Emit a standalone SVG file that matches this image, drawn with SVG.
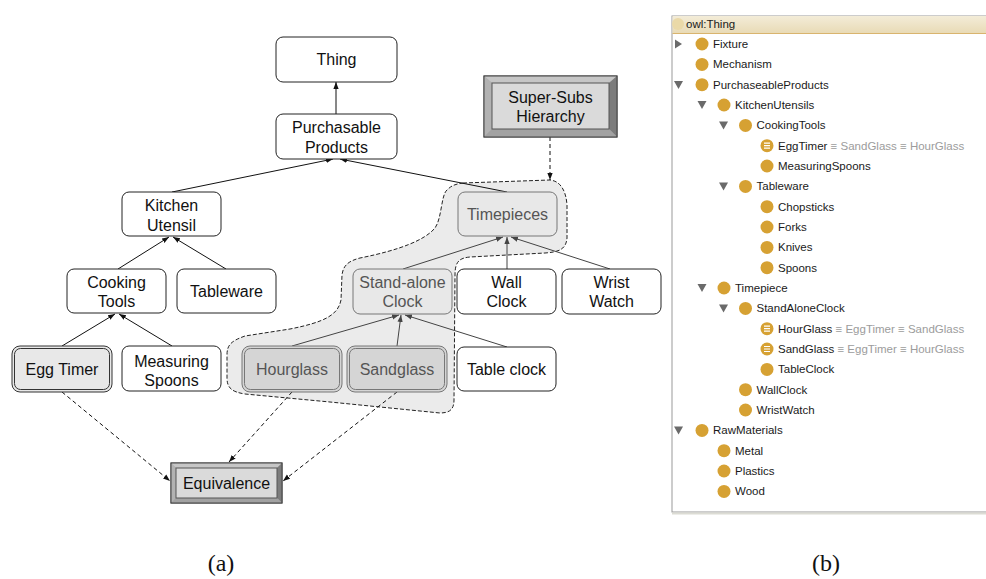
<svg xmlns="http://www.w3.org/2000/svg" width="986" height="579" viewBox="0 0 986 579">
  <defs>
    <marker id="arr" viewBox="0 0 8 8" refX="8" refY="4" markerWidth="7" markerHeight="7" orient="auto" markerUnits="userSpaceOnUse">
      <path d="M0,1 L8,4 L0,7 z" fill="#111"/>
    </marker>
    <marker id="arrGray" viewBox="0 0 8 8" refX="8" refY="4" markerWidth="7" markerHeight="7" orient="auto" markerUnits="userSpaceOnUse">
      <path d="M0,1 L8,4 L0,7 z" fill="#444"/>
    </marker>
    <linearGradient id="hdr" x1="0" y1="0" x2="0" y2="1">
      <stop offset="0" stop-color="#f3ecd8"/>
      <stop offset="1" stop-color="#e9dbb6"/>
    </linearGradient>
  </defs>
  <style>
    .lbl { font-family: "Liberation Sans", Arial, sans-serif; font-size: 16px; fill: #111; text-anchor: middle; }
    .lbl.dim { fill: #555; }
    .box { fill: #fff; stroke: #222; stroke-width: 1; }
    .boxIn { fill: #e8e8e8; stroke: #777; stroke-width: 1; }
    .dbl { fill: none; stroke-width: 1; }
    .edge { stroke: #111; stroke-width: 1; fill: none; marker-end: url(#arr); }
    .edge.gray { stroke: #444; marker-end: url(#arrGray); }
    .edge.dash { stroke-dasharray: 4 3; }
    .tree { font-family: "Liberation Sans", Arial, sans-serif; font-size: 11.5px; fill: #1a1a1a; }
    .eq { fill: #9c9c9c; }
    .cls { fill: #d6a133; }
    .tri { fill: #6a6a6a; }
    .cap { font-family: "Liberation Serif", "Times New Roman", serif; font-size: 24px; fill: #111; text-anchor: middle; }
  </style>

  <!-- shaded region grouping the timepiece classes -->
  <path id="superSubsRegion" d="M463,183 L550,180 C560,181 566,190 567,205 L567,238 C566,250 558,252 545,253 L470,257 C459,258 455,262 455,275 L454,400 C454,410 449,413 440,413 L330,402 L245,394 C232,392 227,388 227,378 L227,355 C227,345 231,341 245,336 L290,329 C325,322 338,315 341,300 L342,275 C343,266 348,261 360,258 C400,250 425,240 435,228 C442,218 441,195 447,190 C452,185 456,184 463,183 Z" fill="#ebebeb" stroke="#222" stroke-width="1" stroke-dasharray="4 2"/>

  <!-- connectors -->
  <g id="connectors">
    <line class="edge" x1="336" y1="114" x2="336" y2="82"/>
    <line class="edge" x1="172" y1="192" x2="333" y2="159"/>
    <line class="edge" x1="507" y1="192" x2="340" y2="159"/>
    <line class="edge" x1="118" y1="269" x2="169" y2="237"/>
    <line class="edge" x1="226" y1="269" x2="173" y2="237"/>
    <line class="edge" x1="62" y1="346" x2="115" y2="314"/>
    <line class="edge" x1="172" y1="346" x2="119" y2="314"/>
    <line class="edge gray" x1="403" y1="269" x2="503" y2="237"/>
    <line class="edge gray" x1="507" y1="269" x2="507" y2="237"/>
    <line class="edge gray" x1="610" y1="269" x2="511" y2="237"/>
    <line class="edge gray" x1="292" y1="346" x2="399" y2="315"/>
    <line class="edge gray" x1="397" y1="346" x2="401" y2="315"/>
    <line class="edge gray" x1="507" y1="347" x2="405" y2="315"/>
    <line class="edge dash" x1="550" y1="137" x2="550" y2="180"/>
    <line class="edge dash" x1="62" y1="392" x2="170" y2="481"/>
    <line class="edge dash" x1="292" y1="392" x2="229" y2="462"/>
    <line class="edge dash" x1="397" y1="392" x2="283" y2="481"/>
  </g>

  <g id="thing">
    <rect class="box" x="276" y="37" width="121" height="45" rx="7"/>
    <text class="lbl" x="336.5" y="65">Thing</text>
  </g>
  <g id="purchasableProducts">
    <rect class="box" x="276" y="114" width="121" height="45" rx="7"/>
    <text class="lbl" x="336.5" y="133">Purchasable</text>
    <text class="lbl" x="336.5" y="153">Products</text>
  </g>
  <g id="kitchenUtensil">
    <rect class="box" x="122" y="192" width="99" height="44" rx="7"/>
    <text class="lbl" x="171.5" y="211">Kitchen</text>
    <text class="lbl" x="171.5" y="231">Utensil</text>
  </g>
  <g id="cookingTools">
    <rect class="box" x="67" y="269" width="99" height="44" rx="7"/>
    <text class="lbl" x="116.5" y="288">Cooking</text>
    <text class="lbl" x="116.5" y="307">Tools</text>
  </g>
  <g id="tableware">
    <rect class="box" x="177" y="269" width="99" height="44" rx="7"/>
    <text class="lbl" x="226.5" y="297">Tableware</text>
  </g>
  <g id="eggTimer">
    <rect x="12" y="346" width="100" height="46" rx="8" fill="#e8e8e8" stroke="#333"/>
    <rect class="dbl" x="14.5" y="348.5" width="95" height="41" rx="6" stroke="#333"/>
    <text class="lbl" x="62" y="375">Egg Timer</text>
  </g>
  <g id="measuringSpoons">
    <rect class="box" x="122" y="346" width="99" height="45" rx="7"/>
    <text class="lbl" x="171.5" y="367">Measuring</text>
    <text class="lbl" x="171.5" y="386">Spoons</text>
  </g>
  <g id="superSubsHierarchy">
    <rect x="484" y="76" width="133" height="61" fill="#aaa" stroke="#444"/>
    <polygon points="484,76 617,76 609,83 492,83" fill="#c6c6c6"/>
    <polygon points="484,76 492,83 492,129 484,137" fill="#b2b2b2"/>
    <polygon points="617,76 617,137 609,129 609,83" fill="#7c7c7c"/>
    <polygon points="484,137 492,129 609,129 617,137" fill="#a2a2a2"/>
    <rect x="492" y="83" width="117" height="46" fill="#dadada" stroke="#555"/>
    <rect x="484" y="76" width="133" height="61" fill="none" stroke="#444"/>
    <text class="lbl" x="550.5" y="103">Super-Subs</text>
    <text class="lbl" x="550.5" y="122">Hierarchy</text>
  </g>
  <g id="timepieces">
    <rect class="boxIn" x="458" y="192" width="99" height="44" rx="7"/>
    <text class="lbl dim" x="507.5" y="220">Timepieces</text>
  </g>
  <g id="standAloneClock">
    <rect class="boxIn" x="353" y="269" width="99" height="45" rx="7"/>
    <text class="lbl dim" x="402.5" y="288">Stand-alone</text>
    <text class="lbl dim" x="402.5" y="307">Clock</text>
  </g>
  <g id="wallClock">
    <rect class="box" x="457" y="269" width="99" height="45" rx="7"/>
    <text class="lbl" x="506.5" y="288">Wall</text>
    <text class="lbl" x="506.5" y="307">Clock</text>
  </g>
  <g id="wristWatch">
    <rect class="box" x="562" y="269" width="99" height="45" rx="7"/>
    <text class="lbl" x="611.5" y="288">Wrist</text>
    <text class="lbl" x="611.5" y="307">Watch</text>
  </g>
  <g id="hourglass">
    <rect x="242" y="346" width="100" height="46" rx="8" fill="#d5d5d5" stroke="#777"/>
    <rect class="dbl" x="244.5" y="348.5" width="95" height="41" rx="6" stroke="#777"/>
    <text class="lbl dim" x="292" y="375">Hourglass</text>
  </g>
  <g id="sandglass">
    <rect x="347" y="346" width="100" height="46" rx="8" fill="#d5d5d5" stroke="#777"/>
    <rect class="dbl" x="349.5" y="348.5" width="95" height="41" rx="6" stroke="#777"/>
    <text class="lbl dim" x="397" y="375">Sandglass</text>
  </g>
  <g id="tableClock">
    <rect class="box" x="457" y="347" width="99" height="44" rx="7"/>
    <text class="lbl" x="506.5" y="375">Table clock</text>
  </g>
  <g id="equivalence">
    <rect x="171" y="463" width="111" height="40" fill="#aaa" stroke="#444"/>
    <polygon points="171,463 282,463 277,468 176,468" fill="#c6c6c6"/>
    <polygon points="171,463 176,468 176,498 171,503" fill="#b2b2b2"/>
    <polygon points="282,463 282,503 277,498 277,468" fill="#7c7c7c"/>
    <polygon points="171,503 176,498 277,498 282,503" fill="#a2a2a2"/>
    <rect x="176" y="468" width="101" height="30" fill="#dadada" stroke="#555"/>
    <rect x="171" y="463" width="111" height="40" fill="none" stroke="#444"/>
    <text class="lbl" x="226.5" y="489">Equivalence</text>
  </g>

  <!-- class hierarchy browser panel -->
  <g id="classTree">
    <rect x="672" y="16" width="320" height="496" fill="#fff" stroke="#999"/>
    <line x1="672" y1="513.5" x2="986" y2="513.5" stroke="#dcdcd4" stroke-width="2"/>
    <rect x="672.5" y="16" width="314" height="17" fill="url(#hdr)"/>
    <line x1="672.5" y1="33.5" x2="986" y2="33.5" stroke="#d9b46e"/>
    <circle cx="678" cy="24" r="6" fill="#ead9a8"/>
    <text class="tree" x="686" y="28">owl:Thing</text>

    <!-- expand/collapse handles -->
    <polygon class="tri" points="675,39.5 675,48.5 682,44"/>
    <polygon class="tri" points="674,81 683,81 678.5,89"/>
    <polygon class="tri" points="697.5,101 706.5,101 702,109"/>
    <polygon class="tri" points="719,121.5 728,121.5 723.5,129.5"/>
    <polygon class="tri" points="719,182.5 728,182.5 723.5,190.5"/>
    <polygon class="tri" points="697.5,284 706.5,284 702,292"/>
    <polygon class="tri" points="719,304.5 728,304.5 723.5,312.5"/>
    <polygon class="tri" points="674,426.5 683,426.5 678.5,434.5"/>

    <!-- class icons -->
    <circle class="cls" cx="702" cy="44" r="6.5"/>
    <circle class="cls" cx="702" cy="64.4" r="6.5"/>
    <circle class="cls" cx="702" cy="84.7" r="6.5"/>
    <circle class="cls" cx="724" cy="105" r="6.5"/>
    <circle class="cls" cx="745.5" cy="125.4" r="6.5"/>
    <g>
      <circle class="cls" cx="767" cy="145.7" r="6.5"/>
      <path d="M764,143.2 h6 M764,145.7 h6 M764,148.2 h6" stroke="#fff" stroke-width="1.2"/>
    </g>
    <circle class="cls" cx="767" cy="166" r="6.5"/>
    <circle class="cls" cx="745.5" cy="186.4" r="6.5"/>
    <circle class="cls" cx="767" cy="206.7" r="6.5"/>
    <circle class="cls" cx="767" cy="227" r="6.5"/>
    <circle class="cls" cx="767" cy="247.4" r="6.5"/>
    <circle class="cls" cx="767" cy="267.7" r="6.5"/>
    <circle class="cls" cx="724" cy="288" r="6.5"/>
    <circle class="cls" cx="745.5" cy="308.4" r="6.5"/>
    <g>
      <circle class="cls" cx="767" cy="328.7" r="6.5"/>
      <path d="M764,326.2 h6 M764,328.7 h6 M764,331.2 h6" stroke="#fff" stroke-width="1.2"/>
    </g>
    <g>
      <circle class="cls" cx="767" cy="349" r="6.5"/>
      <path d="M764,346.5 h6 M764,349 h6 M764,351.5 h6" stroke="#fff" stroke-width="1.2"/>
    </g>
    <circle class="cls" cx="767" cy="369.4" r="6.5"/>
    <circle class="cls" cx="745.5" cy="389.7" r="6.5"/>
    <circle class="cls" cx="745.5" cy="410" r="6.5"/>
    <circle class="cls" cx="702" cy="430.4" r="6.5"/>
    <circle class="cls" cx="724" cy="450.7" r="6.5"/>
    <circle class="cls" cx="724" cy="471" r="6.5"/>
    <circle class="cls" cx="724" cy="491.4" r="6.5"/>

    <!-- class names -->
    <text class="tree" x="713" y="48">Fixture</text>
    <text class="tree" x="713" y="68.4">Mechanism</text>
    <text class="tree" x="713" y="88.7">PurchaseableProducts</text>
    <text class="tree" x="735" y="109">KitchenUtensils</text>
    <text class="tree" x="756.5" y="129.4">CookingTools</text>
    <text class="tree" x="778" y="149.7">EggTimer<tspan class="eq"> ≡ SandGlass ≡ HourGlass</tspan></text>
    <text class="tree" x="778" y="170">MeasuringSpoons</text>
    <text class="tree" x="756.5" y="190.4">Tableware</text>
    <text class="tree" x="778" y="210.7">Chopsticks</text>
    <text class="tree" x="778" y="231">Forks</text>
    <text class="tree" x="778" y="251.4">Knives</text>
    <text class="tree" x="778" y="271.7">Spoons</text>
    <text class="tree" x="735" y="292">Timepiece</text>
    <text class="tree" x="756.5" y="312.4">StandAloneClock</text>
    <text class="tree" x="778" y="332.7">HourGlass<tspan class="eq"> ≡ EggTimer ≡ SandGlass</tspan></text>
    <text class="tree" x="778" y="353">SandGlass<tspan class="eq"> ≡ EggTimer ≡ HourGlass</tspan></text>
    <text class="tree" x="778" y="373.4">TableClock</text>
    <text class="tree" x="756.5" y="393.7">WallClock</text>
    <text class="tree" x="756.5" y="414">WristWatch</text>
    <text class="tree" x="713" y="434.4">RawMaterials</text>
    <text class="tree" x="735" y="454.7">Metal</text>
    <text class="tree" x="735" y="475">Plastics</text>
    <text class="tree" x="735" y="495.4">Wood</text>
  </g>

  <!-- sub-figure captions -->
  <text class="cap" x="221" y="571">(a)</text>
  <text class="cap" x="826" y="571">(b)</text>
</svg>
